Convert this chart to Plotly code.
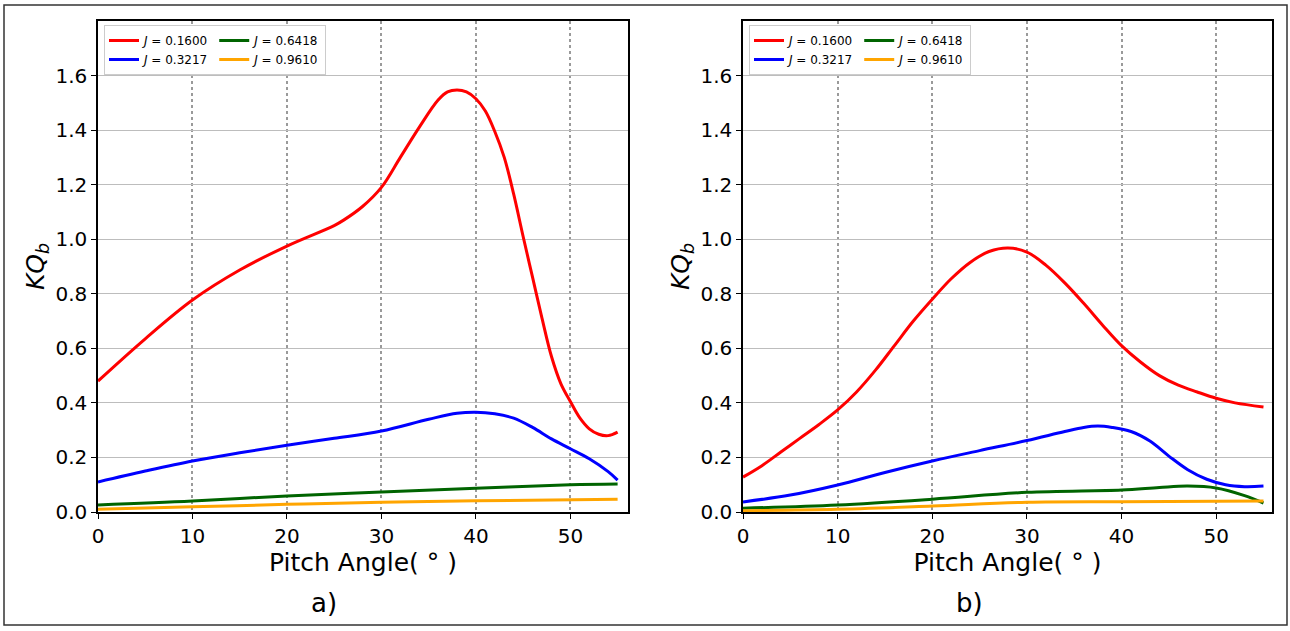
import plotly.graph_objects as go

# ---------------- data ----------------
labels = ["0.1600", "0.3217", "0.6418", "0.9610"]
colors = ["#ff0000", "#0000ff", "#006400", "#ffa500"]

# panel a)
a_red_x = [0, 5, 10, 15, 20, 25, 26, 28, 30, 32, 34, 36, 37, 38, 39, 40, 41, 42, 43, 44, 45, 46, 47, 48, 49, 50, 51, 52, 53, 54, 55]
a_red_y = [0.48, 0.635, 0.777, 0.887, 0.975, 1.05, 1.07, 1.12, 1.19, 1.30, 1.41, 1.51, 1.54, 1.547, 1.54, 1.515, 1.47, 1.395, 1.30, 1.165, 1.01, 0.86, 0.71, 0.57, 0.47, 0.405, 0.345, 0.305, 0.285, 0.28, 0.293]
a_blue_x = [0, 5, 10, 15, 20, 25, 30, 35, 38, 40, 42, 44, 46, 48, 50, 52, 54, 55]
a_blue_y = [0.11, 0.15, 0.187, 0.217, 0.245, 0.27, 0.297, 0.34, 0.362, 0.366, 0.36, 0.344, 0.31, 0.268, 0.232, 0.195, 0.148, 0.117]
a_green_x = [0, 10, 20, 30, 40, 50, 55]
a_green_y = [0.026, 0.04, 0.059, 0.073, 0.087, 0.1, 0.103]
a_orange_x = [0, 10, 20, 30, 40, 55]
a_orange_y = [0.01, 0.019, 0.028, 0.036, 0.041, 0.047]

# panel b)
b_red_x = [0, 2, 4, 6, 8, 10, 12, 14, 16, 18, 20, 22, 24, 26, 28, 30, 32, 34, 36, 38, 40, 42, 44, 46, 48, 50, 52, 55]
b_red_y = [0.128, 0.17, 0.22, 0.27, 0.32, 0.374, 0.44, 0.52, 0.61, 0.70, 0.78, 0.855, 0.915, 0.955, 0.968, 0.953, 0.905, 0.84, 0.765, 0.685, 0.61, 0.55, 0.50, 0.465, 0.44, 0.417, 0.40, 0.385]
b_blue_x = [0, 5, 10, 15, 20, 25, 30, 34, 36, 37.5, 39, 41, 43, 45, 47, 49, 51, 53, 55]
b_blue_y = [0.037, 0.062, 0.099, 0.145, 0.187, 0.225, 0.262, 0.295, 0.31, 0.315, 0.31, 0.295, 0.26, 0.205, 0.155, 0.12, 0.10, 0.093, 0.095]
b_green_x = [0, 10, 20, 30, 40, 44, 47, 50, 53, 55]
b_green_y = [0.014, 0.026, 0.047, 0.072, 0.081, 0.09, 0.095, 0.088, 0.06, 0.033]
b_orange_x = [0, 10, 20, 30, 40, 55]
b_orange_y = [0.005, 0.01, 0.022, 0.036, 0.038, 0.04]

x_ticks = [0, 10, 20, 30, 40, 50]
y_ticks = [0.0, 0.2, 0.4, 0.6, 0.8, 1.0, 1.2, 1.4, 1.6]

panels = [
    ("x", "y", "legend", "a", [(a_red_x, a_red_y), (a_blue_x, a_blue_y), (a_green_x, a_green_y), (a_orange_x, a_orange_y)]),
    ("x2", "y2", "legend2", "b", [(b_red_x, b_red_y), (b_blue_x, b_blue_y), (b_green_x, b_green_y), (b_orange_x, b_orange_y)]),
]

W, H = 1290, 631
FONT = "DejaVu Sans"

fig = go.Figure()
for xa, ya, leg, tag, series in panels:
    for i, (xs, ys) in enumerate(series):
        grp = tag + ("1" if i in (0, 1) else "2")
        fig.add_trace(go.Scatter(
            x=xs, y=ys, mode="lines",
            line=dict(color=colors[i], width=3, shape="spline", smoothing=1.0),
            name="<i>J</i> = " + labels[i],
            legendgroup=grp, legend=leg,
            xaxis=xa, yaxis=ya, showlegend=True,
        ))

def px_x(p):
    return p / W

def px_y(p):
    return 1 - p / H

axis_common = dict(
    showline=True, mirror=True, linecolor="black", linewidth=1.5,
    ticks="outside", ticklen=5, tickcolor="black", tickwidth=1.2,
    zeroline=False, automargin=False,
    tickfont=dict(family=FONT, size=20, color="black"),
)

xgrid = dict(showgrid=True, gridcolor="#9a9a9a", griddash="dot", gridwidth=1.5)
ygrid = dict(showgrid=True, gridcolor="#bdbdbd", gridwidth=1)
xtitle = dict(text="Pitch Angle( ° )", font=dict(family=FONT, size=25), standoff=0)
ytitle = dict(text="<i>KQ</i><sub><i>b</i></sub>", font=dict(family=FONT, size=25), standoff=4)

y_dom = [px_y(512), px_y(21)]
legend_common = dict(
    xanchor="left", yanchor="top",
    orientation="h", traceorder="grouped", tracegroupgap=0,
    bgcolor="white", bordercolor="#cccccc", borderwidth=1,
    font=dict(family=FONT, size=12, color="black"), itemwidth=30,
)

fig.update_layout(
    template="none",
    width=W, height=H,
    margin=dict(l=0, r=0, t=0, b=0, autoexpand=False),
    paper_bgcolor="white", plot_bgcolor="white",
    font=dict(family=FONT, color="black"),
    xaxis=dict(domain=[px_x(98), px_x(628)], range=[0, 56.1], tickvals=x_ticks,
               title=xtitle, anchor="y", **xgrid, **axis_common),
    yaxis=dict(domain=y_dom, range=[0, 1.8], tickvals=y_ticks, tickformat=".1f",
               title=ytitle, anchor="x", **ygrid, **axis_common),
    xaxis2=dict(domain=[px_x(743), px_x(1272)], range=[0, 55.9], tickvals=x_ticks,
                title=xtitle, anchor="y2", **xgrid, **axis_common),
    yaxis2=dict(domain=y_dom, range=[0, 1.8], tickvals=y_ticks, tickformat=".1f",
                title=ytitle, anchor="x2", **ygrid, **axis_common),
    legend=dict(x=px_x(104), y=px_y(25), **legend_common),
    legend2=dict(x=px_x(749), y=px_y(25), **legend_common),
    annotations=[
        dict(text="a)", x=px_x(324), y=px_y(603), xref="paper", yref="paper",
             xanchor="center", yanchor="middle",
             showarrow=False, font=dict(family=FONT, size=26, color="black")),
        dict(text="b)", x=px_x(969), y=px_y(603), xref="paper", yref="paper",
             xanchor="center", yanchor="middle",
             showarrow=False, font=dict(family=FONT, size=26, color="black")),
    ],
    shapes=[
        dict(type="rect", xref="paper", yref="paper",
             x0=px_x(4), x1=px_x(1287), y0=px_y(625), y1=px_y(5),
             line=dict(color="#333333", width=1.5), fillcolor="rgba(0,0,0,0)", layer="below"),
    ],
)

fig.write_html(
    "out.html",
    config={"displayModeBar": False},
    post_script="document.body.style.margin='0px';document.body.style.overflow='hidden';",
)
